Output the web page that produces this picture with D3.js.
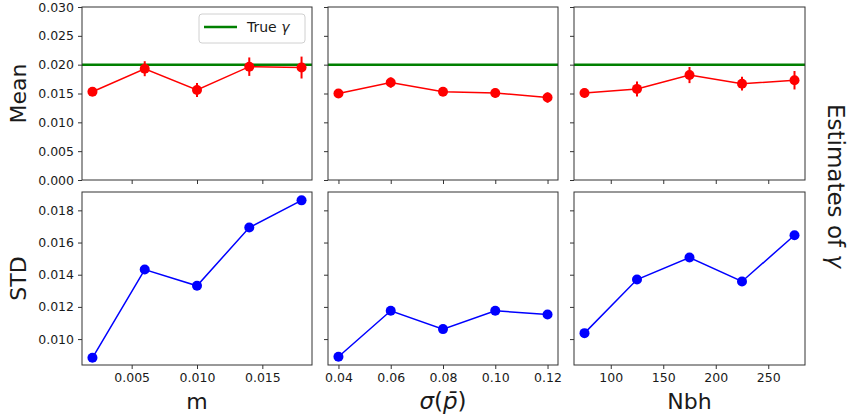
<!DOCTYPE html>
<html>
<head>
<meta charset="utf-8">
<script src="https://cdn.jsdelivr.net/npm/d3@7"></script>
<style>
  body { margin: 0; background: #fff; }
  text { font-family: "DejaVu Sans", sans-serif; fill: #1a1a1a; }
</style>
</head>
<body>
<script>
// chart size
const width = 854;
const height = 416;

// x values of each column
const mValues = [0.002, 0.006, 0.010, 0.014, 0.018];
const sigmaValues = [0.04, 0.06, 0.08, 0.10, 0.12];
const nbhValues = [75, 125, 175, 225, 275];

// mean estimates and error bar half-widths
const meanM = [0.0153, 0.0193, 0.0156, 0.01965, 0.0195];
const errM = [0.0005, 0.0013, 0.0012, 0.0016, 0.0019];
const meanSigma = [0.0150, 0.0169, 0.0153, 0.0151, 0.0143];
const errSigma = [0.0006, 0.0009, 0.0007, 0.0008, 0.0009];
const meanNbh = [0.0151, 0.0158, 0.0182, 0.0167, 0.0173];
const errNbh = [0.0008, 0.0013, 0.0014, 0.0012, 0.0016];

// std of estimates
const stdM = [0.00884, 0.01432, 0.01331, 0.01693, 0.01862];
const stdSigma = [0.0089, 0.01176, 0.01062, 0.01176, 0.01153];
const stdNbh = [0.01037, 0.0137, 0.01507, 0.01358, 0.01645];

const trueGamma = 0.02;

// ticks
const meanTicks = [0, 0.005, 0.010, 0.015, 0.020, 0.025, 0.030];
const stdTicks = [0.010, 0.012, 0.014, 0.016, 0.018];
const mTicks = [0.005, 0.010, 0.015];
const sigmaTicks = [0.04, 0.06, 0.08, 0.10, 0.12];
const nbhTicks = [100, 150, 200, 250];

const svg = d3.select('body')
  .append('svg')
  .attr('width', width)
  .attr('height', height);

// panel columns and rows
const cols = [
  { x0: 82, x1: 312, domain: [0.0012, 0.0188], xs: mValues, ticks: mTicks, fmt: d3.format('.3f'),
    mean: meanM, err: errM, std: stdM },
  { x0: 328, x1: 558, domain: [0.036, 0.124], xs: sigmaValues, ticks: sigmaTicks, fmt: d3.format('.2f'),
    mean: meanSigma, err: errSigma, std: stdSigma },
  { x0: 574, x1: 805, domain: [65, 285], xs: nbhValues, ticks: nbhTicks, fmt: d3.format('d'),
    mean: meanNbh, err: errNbh, std: stdNbh }
];
const topRow = { y0: 7, y1: 180 };
const botRow = { y0: 192, y1: 365 };

const yMean = d3.scaleLinear().domain([0, 0.030]).range([topRow.y1, topRow.y0]);
const yStd = d3.scaleLinear().domain([0.00839, 0.01914]).range([botRow.y1, botRow.y0]);

function styleAxis(g, showLabels) {
  g.select('.domain').remove();
  g.selectAll('.tick line').attr('stroke', '#333').attr('stroke-width', 1);
  g.selectAll('.tick text')
    .style('font-size', '12.5px')
    .style('fill', '#1a1a1a')
    .attr('display', showLabels ? null : 'none');
}

function frame(x0, x1, y0, y1) {
  svg.append('rect')
    .attr('x', x0).attr('y', y0)
    .attr('width', x1 - x0).attr('height', y1 - y0)
    .attr('fill', 'none')
    .attr('stroke', '#333')
    .attr('stroke-width', 1);
}

cols.forEach(function(c, i) {
  const x = d3.scaleLinear().domain(c.domain).range([c.x0, c.x1]);
  const meanData = c.xs.map((v, j) => ({ x: v, y: c.mean[j], e: c.err[j] }));
  const stdData = c.xs.map((v, j) => ({ x: v, y: c.std[j] }));

  // ---- top (mean) panel ----
  svg.append('g')
    .attr('transform', `translate(0,${topRow.y1})`)
    .call(d3.axisBottom(x).tickValues(c.ticks).tickSize(4).tickFormat(c.fmt))
    .call(g => styleAxis(g, false));
  svg.append('g')
    .attr('transform', `translate(${c.x0},0)`)
    .call(d3.axisLeft(yMean).tickValues(meanTicks).tickSize(4).tickPadding(4).tickFormat(d3.format('.3f')))
    .call(g => styleAxis(g, i === 0));

  const clipId = 'clip' + i;
  svg.append('clipPath').attr('id', clipId)
    .append('rect').attr('x', c.x0).attr('y', topRow.y0)
    .attr('width', c.x1 - c.x0).attr('height', topRow.y1 - topRow.y0);

  svg.append('line')
    .attr('clip-path', `url(#${clipId})`)
    .attr('x1', c.x0).attr('x2', c.x1)
    .attr('y1', yMean(trueGamma)).attr('y2', yMean(trueGamma))
    .attr('stroke', '#008000')
    .attr('stroke-width', 2.5);

  svg.append('path')
    .datum(meanData)
    .attr('fill', 'none')
    .attr('stroke', '#ff0000')
    .attr('stroke-width', 1.5)
    .attr('d', d3.line().x(d => x(d.x)).y(d => yMean(d.y)));

  svg.append('g').selectAll('line')
    .data(meanData)
    .enter()
    .append('line')
    .attr('x1', d => x(d.x)).attr('x2', d => x(d.x))
    .attr('y1', d => yMean(d.y - d.e)).attr('y2', d => yMean(d.y + d.e))
    .attr('stroke', '#ff0000')
    .attr('stroke-width', 2);

  svg.append('g').selectAll('circle')
    .data(meanData)
    .enter()
    .append('circle')
    .attr('cx', d => x(d.x))
    .attr('cy', d => yMean(d.y))
    .attr('r', 5)
    .attr('fill', '#ff0000');

  frame(c.x0, c.x1, topRow.y0, topRow.y1);

  // ---- bottom (std) panel ----
  svg.append('g')
    .attr('transform', `translate(0,${botRow.y1})`)
    .call(d3.axisBottom(x).tickValues(c.ticks).tickSize(4).tickPadding(4).tickFormat(c.fmt))
    .call(g => styleAxis(g, true));
  svg.append('g')
    .attr('transform', `translate(${c.x0},0)`)
    .call(d3.axisLeft(yStd).tickValues(stdTicks).tickSize(4).tickPadding(4).tickFormat(d3.format('.3f')))
    .call(g => styleAxis(g, i === 0));

  svg.append('path')
    .datum(stdData)
    .attr('fill', 'none')
    .attr('stroke', '#0000ff')
    .attr('stroke-width', 1.5)
    .attr('d', d3.line().x(d => x(d.x)).y(d => yStd(d.y)));

  svg.append('g').selectAll('circle')
    .data(stdData)
    .enter()
    .append('circle')
    .attr('cx', d => x(d.x))
    .attr('cy', d => yStd(d.y))
    .attr('r', 5)
    .attr('fill', '#0000ff');

  frame(c.x0, c.x1, botRow.y0, botRow.y1);
});

// legend in first panel
const legend = svg.append('g');
legend.append('rect')
  .attr('x', 199).attr('y', 14)
  .attr('width', 106).attr('height', 29)
  .attr('rx', 3)
  .attr('fill', '#fff')
  .attr('fill-opacity', 0.8)
  .attr('stroke', '#d0d0d0');
legend.append('line')
  .attr('x1', 204).attr('x2', 237)
  .attr('y1', 27).attr('y2', 27)
  .attr('stroke', '#008000')
  .attr('stroke-width', 2.5);
const legText = legend.append('text')
  .attr('x', 247).attr('y', 32)
  .style('font-size', '14px');
legText.append('tspan').text('True ');
legText.append('tspan').style('font-style', 'italic').text('γ');

// axis titles
svg.append('text')
  .attr('transform', `translate(26,${(topRow.y0 + topRow.y1) / 2}) rotate(-90)`)
  .attr('text-anchor', 'middle')
  .style('font-size', '22px')
  .text('Mean');
svg.append('text')
  .attr('transform', `translate(26,${(botRow.y0 + botRow.y1) / 2}) rotate(-90)`)
  .attr('text-anchor', 'middle')
  .style('font-size', '22px')
  .text('STD');

svg.append('text')
  .attr('x', (cols[0].x0 + cols[0].x1) / 2).attr('y', 409)
  .attr('text-anchor', 'middle')
  .style('font-size', '22px')
  .text('m');

const sigLabel = svg.append('text')
  .attr('x', (cols[1].x0 + cols[1].x1) / 2).attr('y', 409)
  .attr('text-anchor', 'middle')
  .style('font-size', '23px');
sigLabel.append('tspan').style('font-style', 'italic').text('σ');
sigLabel.append('tspan').text('(');
sigLabel.append('tspan').style('font-style', 'italic').text('p\u0304');
sigLabel.append('tspan').text(')');

svg.append('text')
  .attr('x', (cols[2].x0 + cols[2].x1) / 2).attr('y', 409)
  .attr('text-anchor', 'middle')
  .style('font-size', '22px')
  .text('Nbh');

const rightLabel = svg.append('text')
  .attr('transform', `translate(828,${(topRow.y0 + botRow.y1) / 2}) rotate(90)`)
  .attr('text-anchor', 'middle')
  .style('font-size', '23px');
rightLabel.append('tspan').text('Estimates of ');
rightLabel.append('tspan').style('font-style', 'italic').text('γ');
</script>
</body>
</html>
